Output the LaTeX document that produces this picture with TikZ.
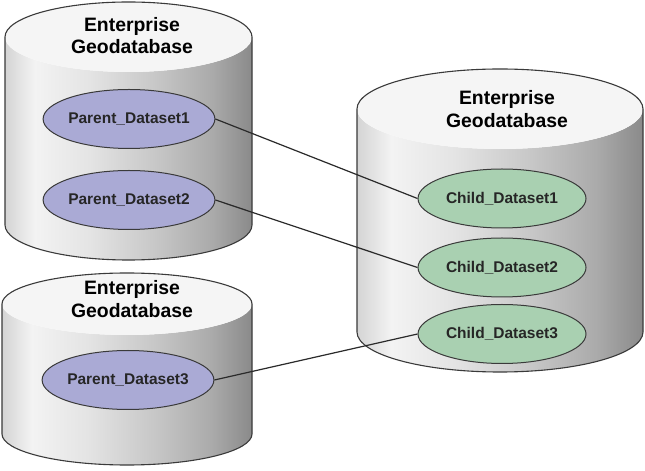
\documentclass[tikz,border=0pt]{standalone}
\usepackage{fontspec}
\setmainfont{Liberation Sans}
\usetikzlibrary{shapes.geometric}
\definecolor{s0}{HTML}{D4D4D4}
\definecolor{s1}{HTML}{F3F3F3}
\definecolor{s2}{HTML}{E4E4E4}
\definecolor{s3}{HTML}{C8C8C8}
\definecolor{s4}{HTML}{AAAAAA}
\definecolor{s5}{HTML}{8A8A8A}
\definecolor{topc}{HTML}{F5F5F5}
\definecolor{edgec}{HTML}{3A3A3A}
\definecolor{linec}{HTML}{2A2A2A}
\definecolor{parentc}{HTML}{AAAAD5}
\definecolor{childc}{HTML}{A9D0B1}
\pgfdeclarehorizontalshading{cylside}{100bp}{color(0bp)=(s0); color(25bp)=(s0); color(31bp)=(s1); color(42bp)=(s2); color(55bp)=(s3); color(67bp)=(s4); color(75bp)=(s5); color(100bp)=(s5)}
% #1 cx, #2 rx, #3 top centre y, #4 bottom centre y, #5 ry
\newcommand\drawdbcyl[5]{%
  \path[shading=cylside] ({#1-#2},#3) -- ({#1-#2},#4)
     arc[start angle=180,end angle=360,x radius=#2pt,y radius=#5pt]
     -- ({#1+#2},#3)
     arc[start angle=0,end angle=-180,x radius=#2pt,y radius=#5pt] -- cycle;
  \fill[topc] (#1,#3) ellipse[x radius=#2pt,y radius=#5pt];
  \draw[draw=edgec,line width=1.1pt] ({#1-#2},#3) -- ({#1-#2},#4)
     arc[start angle=180,end angle=360,x radius=#2pt,y radius=#5pt]
     -- ({#1+#2},#3)
     arc[start angle=0,end angle=180,x radius=#2pt,y radius=#5pt] -- cycle;
}
\begin{document}
\begin{tikzpicture}[x=1pt,y=1pt,
  ds/.style={ellipse, draw=edgec, line width=1pt, minimum width=168pt,
    minimum height=59pt, inner sep=0pt,
    font=\fontsize{15.5}{18}\selectfont\bfseries, text=black!85},
  parent/.style={ds, fill=parentc},
  child/.style={ds, fill=childc},
  ttl/.style={anchor=base, inner sep=0pt,
    font=\fontsize{19.4}{23}\selectfont\bfseries},
  link/.style={draw=linec, line width=1.2pt}]
\useasboundingbox (0,0) rectangle (645,471);
\fill[white] (0,0) rectangle (645,471);

\drawdbcyl{128.5}{123.5}{434}{246}{35}
\drawdbcyl{127}{125}{167}{37}{31}
\drawdbcyl{500}{143}{362}{139}{40}

\node[ttl] (tA1) at (132,439) {Enterprise};
\node[ttl] (tA2) at (132,417) {Geodatabase};
\node[ttl] (tB1) at (132,176) {Enterprise};
\node[ttl] (tB2) at (132,153) {Geodatabase};
\node[ttl] (tC1) at (507,366) {Enterprise};
\node[ttl] (tC2) at (507,343) {Geodatabase};

\node[parent] (P1) at (129,352) {Parent\_Dataset1};
\node[parent] (P2) at (129,271) {Parent\_Dataset2};
\node[parent] (P3) at (128,91) {Parent\_Dataset3};
\node[child] (C1) at (502,272.5) {Child\_Dataset1};
\node[child] (C2) at (502,203.5) {Child\_Dataset2};
\node[child] (C3) at (502,137) {Child\_Dataset3};

\draw[link] (P1.east) -- (C1.west);
\draw[link] (P2.east) -- (C2.west);
\draw[link] (P3.east) -- (C3.west);
\end{tikzpicture}
\end{document}
